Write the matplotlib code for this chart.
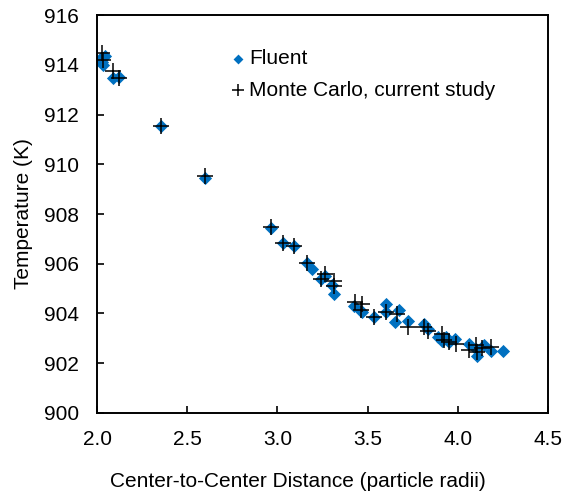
import matplotlib
matplotlib.use("Agg")
import matplotlib.pyplot as plt

plt.rcParams["font.family"] = ["Liberation Sans", "DejaVu Sans"]

# Fluent results: distance (particle radii), temperature (K)
fluent_x = [2.024, 2.034, 2.045, 2.030, 2.088, 2.124, 2.354, 2.598, 2.963,
            3.033, 3.093, 3.163, 3.193, 3.243, 3.263, 3.303, 3.313, 3.423,
            3.463, 3.470, 3.537, 3.603, 3.600, 3.653, 3.673, 3.723, 3.813,
            3.833, 3.893, 3.913, 3.933, 3.953, 3.983, 4.063, 4.103, 4.107,
            4.143, 4.187, 4.253]
fluent_y = [914.26, 914.00, 914.35, 914.10, 913.46, 913.50, 911.55, 909.43,
            907.43, 906.85, 906.70, 906.03, 905.80, 905.39, 905.52, 905.15,
            904.79, 904.29, 904.12, 904.05, 903.85, 904.38, 904.05, 903.65,
            904.16, 903.68, 903.58, 903.38, 903.05, 902.90, 903.05, 902.85,
            902.98, 902.78, 902.58, 902.31, 902.72, 902.49, 902.49]

# Monte Carlo results
mc_x = [2.030, 2.034, 2.090, 2.124, 2.354, 2.598, 2.963, 3.033, 3.093,
        3.163, 3.243, 3.263, 3.313, 3.313, 3.433, 3.470, 3.463, 3.537,
        3.603, 3.663, 3.723, 3.813, 3.833, 3.913, 3.923, 3.953, 3.993,
        4.063, 4.103, 4.107, 4.133, 4.183]
mc_y = [914.46, 914.18, 913.73, 913.46, 911.53, 909.52, 907.48, 906.82,
        906.70, 906.05, 905.40, 905.59, 905.32, 905.10, 904.48, 904.38,
        904.15, 903.85, 904.05, 903.98, 903.45, 903.45, 903.30, 903.18,
        902.95, 902.85, 902.78, 902.52, 902.72, 902.45, 902.60, 902.65]

x_ticks = [2.0, 2.5, 3.0, 3.5, 4.0, 4.5]
x_tick_labels = ["2.0", "2.5", "3.0", "3.5", "4.0", "4.5"]
y_ticks = [900, 902, 904, 906, 908, 910, 912, 914, 916]

fig, ax = plt.subplots(figsize=(5.66, 4.94), dpi=100)
fig.subplots_adjust(left=0.1714, right=0.968, top=0.9696, bottom=0.164)

ax.scatter(fluent_x, fluent_y, marker="D", s=45, color="#0070C0",
           linewidths=0, label="Fluent", zorder=2)
ax.scatter(mc_x, mc_y, marker="+", s=120, color="black",
           linewidths=1.1, label="Monte Carlo, current study", zorder=3)

ax.set_xlim(2.0, 4.5)
ax.set_ylim(900, 916)
ax.set_xticks(x_ticks)
ax.set_xticklabels(x_tick_labels)
ax.set_yticks(y_ticks)
ax.tick_params(direction="in", labelsize=15, length=5, width=1.2)
ax.tick_params(axis="x", pad=12)
ax.tick_params(axis="y", pad=13)

for side in ax.spines.values():
    side.set_linewidth(1.4)

ax.set_xlabel("Center-to-Center Distance (particle radii)", fontsize=15)
ax.xaxis.set_label_coords(0.446, -0.148)
ax.set_ylabel("Temperature (K)", fontsize=15, labelpad=8)

ax.legend(loc="upper left", bbox_to_anchor=(0.406, 0.900),
          bbox_transform=fig.transFigure, frameon=False, fontsize=15,
          borderpad=0, borderaxespad=0, handlelength=0.8,
          handletextpad=0.13, labelspacing=0.6, markerscale=0.75)

fig.savefig("out.png", dpi=100)
